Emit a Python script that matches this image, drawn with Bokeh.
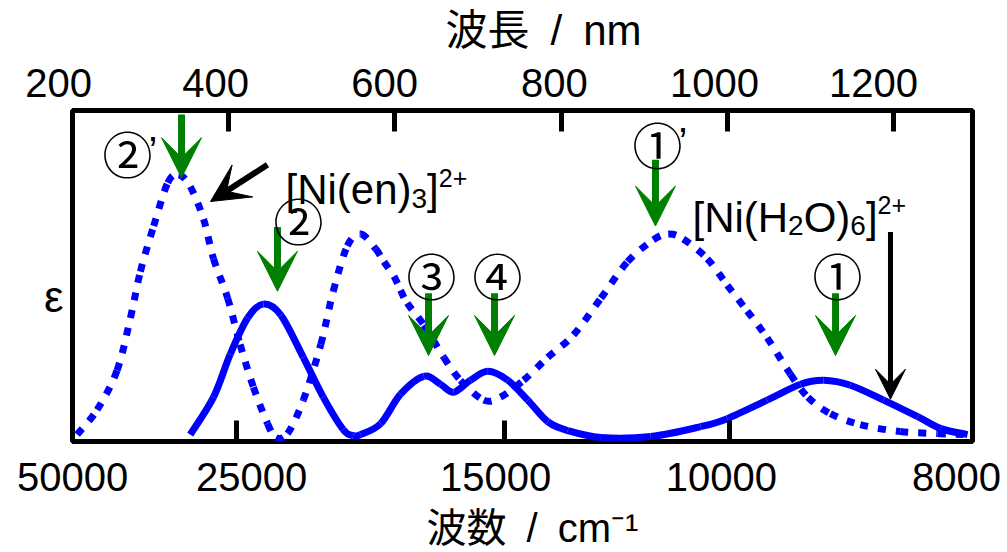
from bokeh.plotting import figure
from bokeh.models import Range1d, LinearAxis, FixedTicker, Arrow, VeeHead, Label, ColumnDataSource
from bokeh.embed import file_html
from bokeh.resources import INLINE

# ---------------- data ----------------
# [Ni(H2O)6]2+  (solid)   wavelength / nm , relative epsilon
h2o_nm = [354, 382, 402, 423, 442, 463, 490, 514, 538, 550, 559, 583, 607, 635, 655,
          671, 691, 712, 736, 760, 784, 808, 848, 908, 968, 1000, 1048, 1088, 1116,
          1148, 1188, 1229, 1257, 1289]
h2o_eps = [2.1, 13.4, 26.3, 37.3, 41.5, 38.2, 25.4, 13.4, 3.6, 1.8, 2.1, 5.4, 14.3, 19.7,
           17.3, 14.9, 18.5, 21.2, 18.5, 12.5, 6.0, 3.3, 1.2, 1.5, 4.5, 6.9, 12.5, 17.3,
           18.5, 17.0, 12.5, 7.5, 3.9, 2.1]

# [Ni(en)3]2+  (dotted)
en_nm = [218, 242, 266, 282, 294, 310, 327, 340, 354, 370, 382, 399, 414, 430, 447, 457,
         471, 490, 511, 526, 543, 559, 577, 587, 599, 607, 615, 635, 659, 679, 707, 727,
         755, 784, 815, 848, 880, 911, 929, 947, 976, 1000, 1024, 1048, 1076, 1097, 1124,
         1160, 1208, 1253, 1284]
en_eps = [2.1, 9.6, 21.5, 37.3, 51.3, 65.1, 78.2, 80.6, 77.0, 67.2, 55.2, 43.3, 29.3, 16.4,
          5.4, 1.2, 2.4, 12.5, 29.3, 45.4, 59.1, 62.7, 58.2, 54.3, 49.9, 45.7, 41.8, 35.2,
          25.4, 18.5, 12.5, 13.4, 18.5, 25.4, 32.2, 43.3, 54.3, 60.9, 62.7, 61.2, 55.2, 47.2,
          39.4, 31.3, 20.3, 13.4, 8.4, 5.1, 3.0, 2.4, 2.1]

# top axis (wavelength)
top_tick_labels = ["200\u2002\u2009", "400", "600", "800", "1000", "1200"]
top_label_pos = [212.5, 384.4, 587.7, 792.1, 984.6, 1175.9]
top_tick_marks = [400, 600, 800, 1000, 1200]

# bottom axis (wavenumber)
bottom_tick_labels = ["50000", "25000", "15000", "10000", "8000"]
bottom_label_pos = [212.5, 427.7, 721.2, 993.0, 1275.7]
bottom_tick_marks = [409.6, 732.0, 1002.7]

# y axis symbol position
eps_label_pos = [43.9]

# band markers: label, arrow x, arrow top, arrow tip
band_labels = ["②", "②", "③", "④", "①", "①"]
band_primes = ["’", "", "", "", "’", ""]
band_x = [343.5, 458.9, 640.6, 720.0, 913.6, 1130.2]
band_top = [98.8, 64.8, 44.8, 44.8, 85.1, 44.8]
band_tip = [79.7, 45.4, 26.0, 26.0, 65.1, 26.0]
label_x = [278.5, 484.2, 644.2, 723.6, 916.0, 1132.6]
label_y = [87.5, 67.2, 50.7, 50.7, 90.1, 50.7]

X0, X1 = 212.35, 1294.96
FW, FH = 900, 335
NM_PER_PX = (X1 - X0) / FW
V_PER_PX = 100.0 / FH

BLUE = "#0000ff"
GREEN = "#008000"
LATIN = "Liberation Sans"
MIXED = "Liberation Sans, Noto Sans CJK JP"

p = figure(width=1007, height=552, x_range=Range1d(X0, X1), y_range=Range1d(0, 100),
           output_backend="svg", toolbar_location=None,
           x_axis_location=None, y_axis_location=None,
           min_border_left=72, min_border_right=35, min_border_top=110, min_border_bottom=107)
p.grid.grid_line_color = None
p.outline_line_color = "black"
p.outline_line_width = 5
p.background_fill_color = "white"
p.border_fill_color = "white"


def style_axis(ax):
    ax.axis_line_color = None
    ax.major_tick_line_color = None
    ax.major_tick_in = 0
    ax.major_tick_out = 0
    ax.minor_tick_in = 21
    ax.minor_tick_out = 0
    ax.minor_tick_line_width = 5
    ax.minor_tick_line_color = "black"
    ax.major_label_text_font = LATIN
    ax.major_label_text_font_size = "40px"
    ax.major_label_text_color = "black"
    ax.axis_label_text_font = MIXED
    ax.axis_label_text_font_style = "normal"
    ax.axis_label_text_color = "black"


top_axis = LinearAxis(ticker=FixedTicker(ticks=top_label_pos, minor_ticks=top_tick_marks),
                      major_label_overrides={k: v for k, v in zip(top_label_pos, top_tick_labels)},
                      axis_label="\u2002\u2002波長\u2002/\u2002nm")
style_axis(top_axis)
top_axis.major_label_standoff = 6
top_axis.axis_label_standoff = 4
top_axis.axis_label_text_font_size = "42px"
p.add_layout(top_axis, "above")

bottom_axis = LinearAxis(ticker=FixedTicker(ticks=bottom_label_pos, minor_ticks=bottom_tick_marks),
                         major_label_overrides={k: v for k, v in zip(bottom_label_pos, bottom_tick_labels)},
                         axis_label="\u2002波数\u2002/\u2002cm\u207b\u00b9")
style_axis(bottom_axis)
bottom_axis.major_label_standoff = 21
bottom_axis.axis_label_standoff = 12
bottom_axis.axis_label_text_font_size = "40px"
p.add_layout(bottom_axis, "below")

left_axis = LinearAxis(ticker=FixedTicker(ticks=eps_label_pos),
                       major_label_overrides={eps_label_pos[0]: "ε"})
left_axis.axis_line_color = None
left_axis.major_tick_line_color = None
left_axis.minor_tick_line_color = None
left_axis.major_tick_in = 0
left_axis.major_tick_out = 0
left_axis.major_label_standoff = 9
left_axis.major_label_text_font = LATIN
left_axis.major_label_text_font_size = "44px"
left_axis.major_label_text_color = "black"
p.add_layout(left_axis, "left")


def bezier_curve(xs, ys, **kw):
    n = len(xs)
    pts = list(zip(xs, ys))
    d = dict(x0=[], y0=[], x1=[], y1=[], cx0=[], cy0=[], cx1=[], cy1=[])
    for i in range(n - 1):
        pm = pts[i - 1] if i > 0 else pts[i]
        a = pts[i]
        b = pts[i + 1]
        pn = pts[i + 2] if i + 2 < n else pts[i + 1]
        d["x0"].append(a[0]); d["y0"].append(a[1])
        d["x1"].append(b[0]); d["y1"].append(b[1])
        d["cx0"].append(a[0] + (b[0] - pm[0]) / 6.0); d["cy0"].append(a[1] + (b[1] - pm[1]) / 6.0)
        d["cx1"].append(b[0] - (pn[0] - a[0]) / 6.0); d["cy1"].append(b[1] - (pn[1] - a[1]) / 6.0)
    p.bezier(x0="x0", y0="y0", x1="x1", y1="y1", cx0="cx0", cy0="cy0", cx1="cx1", cy1="cy1",
             source=ColumnDataSource(d), **kw)


def smooth_curve(xs, ys, **kw):
    try:
        from bokeh.models.glyphs import Spline
        g = Spline(x="x", y="y", tension=0.5, **kw)
        p.add_glyph(ColumnDataSource(dict(x=xs, y=ys)), g)
    except Exception:
        bezier_curve(xs, ys, **kw)


smooth_curve(en_nm, en_eps, line_color=BLUE, line_width=7, line_dash="8 10")
smooth_curve(h2o_nm, h2o_eps, line_color=BLUE, line_width=7)

# green band arrows and circled numbers
for lab, pr, bx, bt, btip, lx, ly in zip(band_labels, band_primes, band_x, band_top, band_tip, label_x, label_y):
    p.add_layout(Arrow(end=VeeHead(size=40, fill_color=GREEN, line_color=GREEN, line_width=1),
                       x_start=bx, y_start=bt, x_end=bx, y_end=btip,
                       line_color=GREEN, line_width=7))
    p.add_layout(Label(x=lx, y=ly, text=lab, text_font="Noto Sans CJK JP", text_font_size="50px",
                       text_align="center", text_baseline="middle", text_color="black"))
    if pr:
        p.add_layout(Label(x=lx + 21 * NM_PER_PX, y=ly + 1 * V_PER_PX, text=pr, text_font=LATIN,
                           text_font_size="40px", text_align="left", text_baseline="middle",
                           text_color="black"))

# black arrows to the complexes
p.add_layout(Arrow(end=VeeHead(size=38, fill_color="black", line_color="black", line_width=1),
                   x_start=446.9, y_start=83.6, x_end=378.3, y_end=72.5, line_color="black", line_width=6))
p.add_layout(Arrow(end=VeeHead(size=30, fill_color="black", line_color="black", line_width=1),
                   x_start=1196.3, y_start=63.3, x_end=1196.3, y_end=12.8, line_color="black", line_width=5))

EM = {'[': 0.278, ']': 0.278, 'N': 0.722, 'i': 0.222, '(': 0.333, ')': 0.333, 'e': 0.556,
      'n': 0.556, 'H': 0.722, 'O': 0.778, '+': 0.584, ' ': 0.278, '/': 0.278, 'm': 0.833,
      'c': 0.5, '-': 0.333}


def twidth(s, size):
    return sum(EM.get(ch, 0.556) for ch in s) * size


def compose(x0, base, pieces, main=42, sub=28, sup=25, sub_dy=-9, sup_dy=12):
    x = x0
    for txt, kind in pieces:
        size = {"main": main, "sub": sub, "sup": sup}[kind]
        dy = {"main": 0, "sub": sub_dy, "sup": sup_dy}[kind]
        p.add_layout(Label(x=x, y=base + dy * V_PER_PX, text=txt, text_font=LATIN,
                           text_font_size=f"{size}px", text_align="left", text_baseline="alphabetic",
                           text_color="black"))
        x += twidth(txt, size) * NM_PER_PX


compose(468.6, 76.1, [("[Ni(en)", "main"), ("3", "sub"), ("]", "main"), ("2+", "sup")])
compose(958.1, 67.8, [("[Ni(H", "main"), ("2", "sub"), ("O)", "main"), ("6", "sub"), ("]", "main"), ("2+", "sup")])

open("out.html", "w").write(file_html(p, INLINE))
